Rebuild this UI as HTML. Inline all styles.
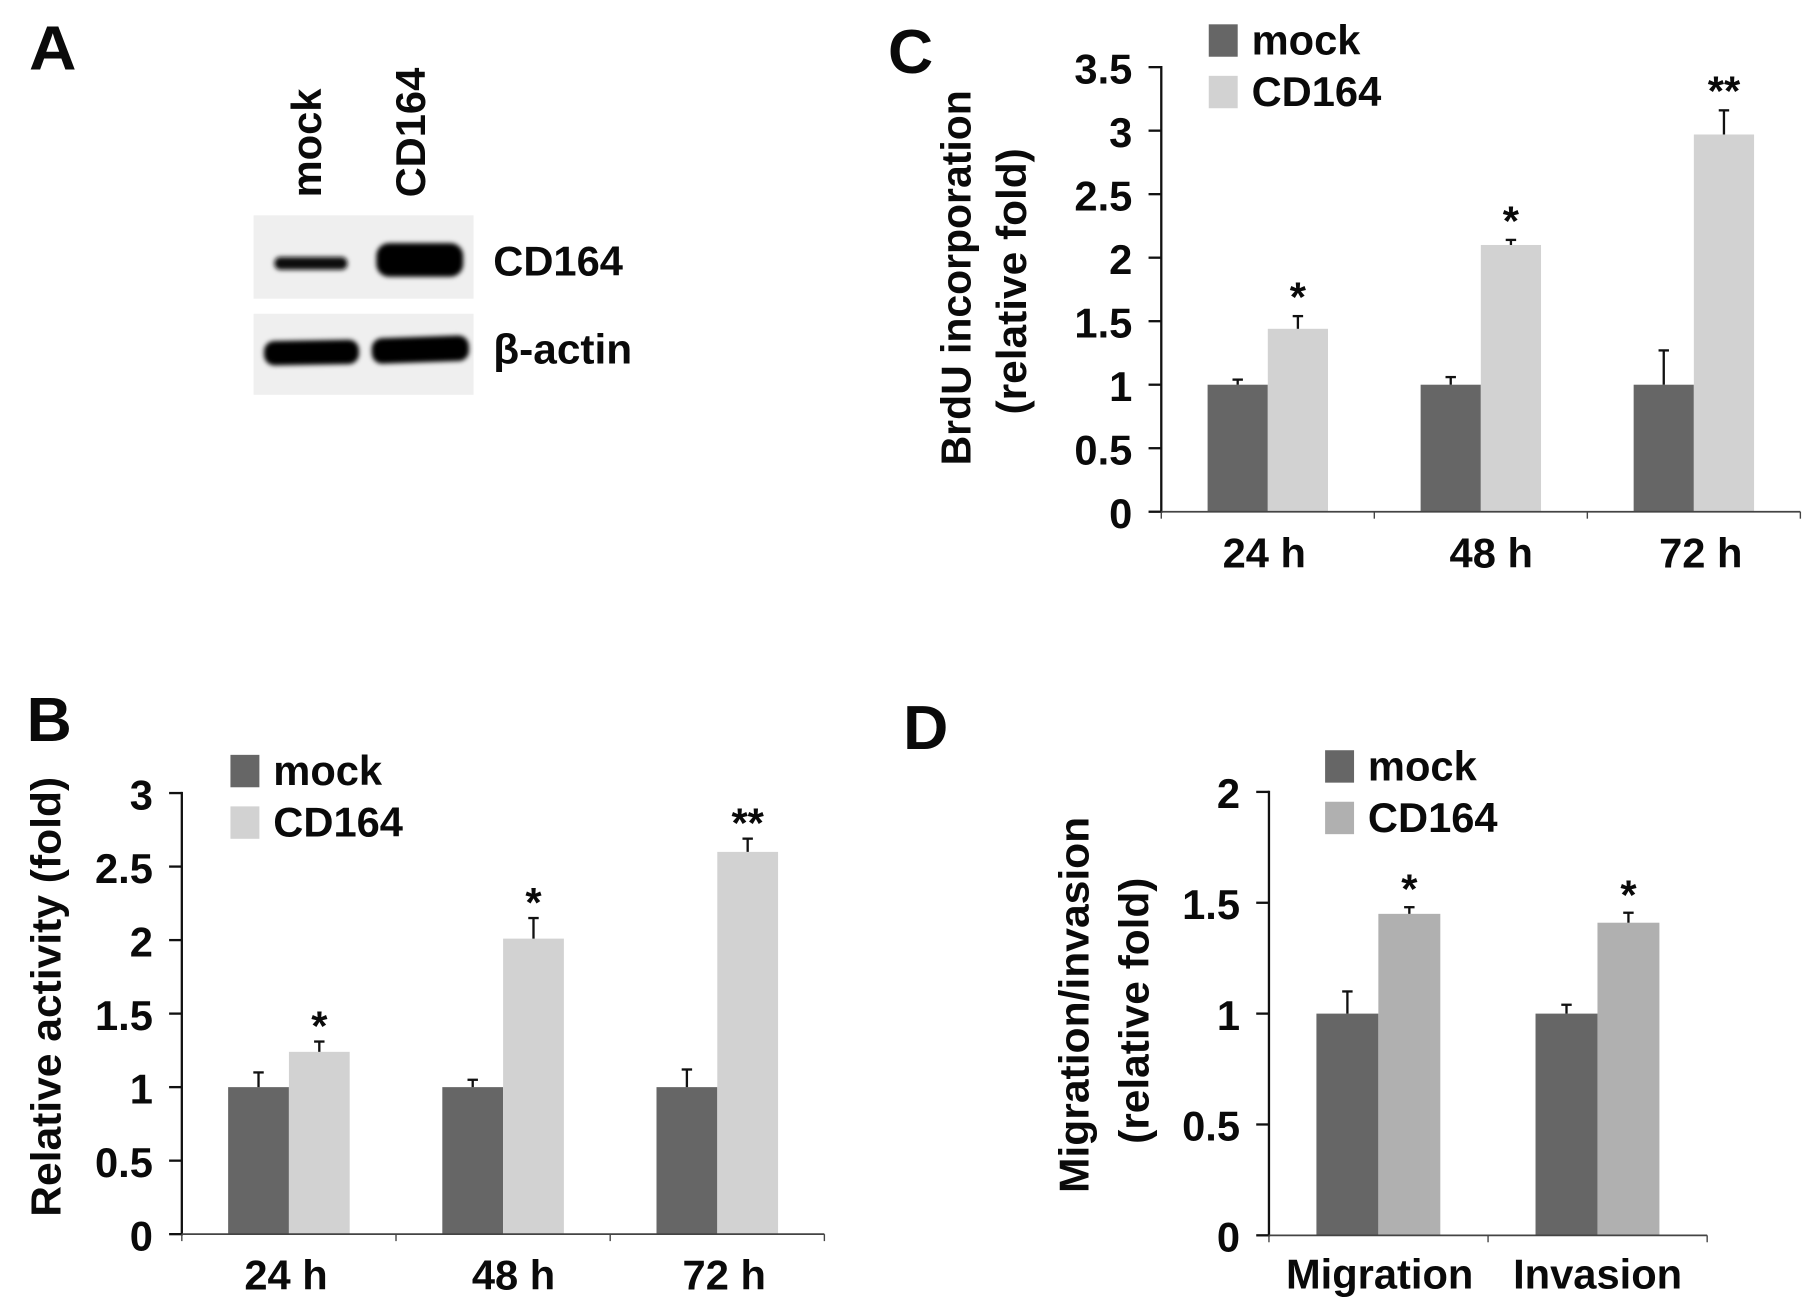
<!DOCTYPE html>
<html lang="en">
<head>
<meta charset="utf-8">
<title>CD164 figure panels</title>
<style>
html,body{margin:0;padding:0;background:#fff;width:1812px;height:1310px;overflow:hidden}
svg{display:block}
text{font-family:"Liberation Sans",Arial,sans-serif;font-weight:700;fill:#0a0a0a}
</style>
</head>
<body>
<svg id="figure" xmlns="http://www.w3.org/2000/svg" width="1812" height="1310" viewBox="0 0 1565 1131.5">
  <defs>
    <filter id="soft" x="-20%" y="-60%" width="140%" height="220%"><feGaussianBlur stdDeviation="2"/></filter>
  </defs>
  <rect width="1565" height="1132" fill="#fff"/>

  <text x="25" y="60" font-size="54" textLength="41" lengthAdjust="spacingAndGlyphs">A</text>
  <g transform="translate(-1,0)">
    <text transform="translate(278,170.5) rotate(-90)" font-size="36">mock</text>
    <text transform="translate(368,170.5) rotate(-90)" font-size="36">CD164</text>
    <rect x="220" y="186" width="190" height="72" fill="#efefef"/>
    <rect x="220" y="271" width="190" height="70" fill="#efefef"/>
    <rect x="238" y="222" width="63" height="11" rx="5" fill="#111" filter="url(#soft)"/>
    <rect x="326" y="210" width="75" height="29" rx="11" fill="#050505" filter="url(#soft)"/>
    <rect x="229" y="294" width="82" height="21" rx="9" fill="#050505" filter="url(#soft)" transform="rotate(-1 270 304)"/>
    <rect x="322" y="291" width="84" height="22" rx="9" fill="#050505" filter="url(#soft)" transform="rotate(-2 363 301)"/>
    <text x="427" y="238" font-size="36">CD164</text>
    <text x="427" y="314" font-size="36" textLength="120" lengthAdjust="spacingAndGlyphs">β-actin</text>
  </g>

  <text x="23" y="640" font-size="54">B</text>
  <text x="767" y="63" font-size="54">C</text>
  <text x="780" y="647" font-size="54">D</text>

  <text transform="translate(52,861) rotate(-90)" text-anchor="middle" font-size="36" textLength="380" lengthAdjust="spacingAndGlyphs">Relative activity (fold)</text>
  <text transform="translate(838,240) rotate(-90)" text-anchor="middle" font-size="36" textLength="324" lengthAdjust="spacingAndGlyphs">BrdU incorporation</text>
  <text transform="translate(886,243) rotate(-90)" text-anchor="middle" font-size="36" textLength="230" lengthAdjust="spacingAndGlyphs">(relative fold)</text>
  <text transform="translate(940,868) rotate(-90)" text-anchor="middle" font-size="36" textLength="325" lengthAdjust="spacingAndGlyphs">Migration/invasion</text>
  <text transform="translate(992,873) rotate(-90)" text-anchor="middle" font-size="36" textLength="230" lengthAdjust="spacingAndGlyphs">(relative fold)</text>

  <g id="chart-b"></g>
  <g id="chart-c"></g>
  <g id="chart-d"></g>
</svg>

<script>
// Panel B: relative activity
const bCategories = ['24 h', '48 h', '72 h'];
const bTickLabels = ['0', '0.5', '1', '1.5', '2', '2.5', '3'];
const bTickValues = [0, 0.5, 1, 1.5, 2, 2.5, 3];
const bMock = [1, 1, 1];
const bCd164 = [1.24, 2.01, 2.6];
const bMockErr = [0.1, 0.05, 0.12];
const bCd164Err = [0.07, 0.14, 0.09];
const bStars = ['*', '*', '**'];

// Panel C: BrdU incorporation
const cCategories = ['24 h', '48 h', '72 h'];
const cTickLabels = ['0', '0.5', '1', '1.5', '2', '2.5', '3', '3.5'];
const cTickValues = [0, 0.5, 1, 1.5, 2, 2.5, 3, 3.5];
const cMock = [1, 1, 1];
const cCd164 = [1.44, 2.1, 2.97];
const cMockErr = [0.04, 0.06, 0.27];
const cCd164Err = [0.1, 0.04, 0.19];
const cStars = ['*', '*', '**'];

// Panel D: migration / invasion
const dCategories = ['Migration', 'Invasion'];
const dTickLabels = ['0', '0.5', '1', '1.5', '2'];
const dTickValues = [0, 0.5, 1, 1.5, 2];
const dMock = [1, 1];
const dCd164 = [1.45, 1.41];
const dMockErr = [0.1, 0.04];
const dCd164Err = [0.03, 0.045];
const dStars = ['*', '*'];

const seriesNames = ['mock', 'CD164'];
const NS = 'http://www.w3.org/2000/svg';

function make(parent, tag, attrs) {
  const el = document.createElementNS(NS, tag);
  for (const k in attrs) el.setAttribute(k, attrs[k]);
  parent.appendChild(el);
  return el;
}

function drawChart(cfg) {
  const root = document.getElementById(cfg.id);
  const maxV = cfg.tickValues[cfg.tickValues.length - 1];
  const yScale = v => cfg.y0 - (v / maxV) * (cfg.y0 - cfg.yTop);
  const groupW = (cfg.xEnd - cfg.x0) / cfg.categories.length;
  const groupX = i => cfg.x0 + i * groupW;
  const barX = (i, s) => groupX(i) + cfg.gap + s * cfg.barW;

  cfg.categories.forEach((cat, i) => {
    [[cfg.mock, cfg.mockErr, cfg.darkFill], [cfg.cd164, cfg.cd164Err, cfg.lightFill]].forEach((ser, s) => {
      const v = ser[0][i];
      const top = yScale(v);
      const bar = make(root, 'rect', {x: barX(i, s), y: top, width: cfg.barW, height: cfg.y0 - top, fill: ser[2]});
      
      

      const cx = barX(i, s) + cfg.barW / 2;
      const errTop = yScale(v + ser[1][i]);
      const stem = make(root, 'line', {x1: cx, x2: cx, y1: top, y2: errTop, stroke: '#111', 'stroke-width': 2});
      
      
      const cap = make(root, 'line', {x1: cx - 4.5, x2: cx + 4.5, y1: errTop, y2: errTop, stroke: '#111', 'stroke-width': 2});
      
      

      if (s === 1) {
        const star = make(root, 'text', {x: cx, y: errTop + cfg.starDy, 'font-size': 36, 'text-anchor': 'middle'});
        star.textContent = cfg.stars[i];
        
        
      }
    });

    const label = make(root, 'text', {x: groupX(i) + groupW / 2 + cfg.labelNudge[i], y: cfg.labelY, 'font-size': 36, 'text-anchor': 'middle'});
    label.textContent = cat;
    
    
  });

  const yAxis = make(root, 'line', {x1: cfg.x0, x2: cfg.x0, y1: cfg.yTop - 1, y2: cfg.y0 + 1, stroke: '#111', 'stroke-width': 2});
  
  
  const xAxis = make(root, 'line', {x1: cfg.x0, x2: cfg.xEnd, y1: cfg.y0, y2: cfg.y0, stroke: '#444', 'stroke-width': 1.5});
  
  

  cfg.tickValues.forEach((v, i) => {
    const y = yScale(v);
    const tick = make(root, 'line', {x1: cfg.x0 - 11, x2: cfg.x0, y1: y, y2: y, stroke: '#111', 'stroke-width': 2});
    
    
    const t = make(root, 'text', {x: cfg.x0 - 25, y: y + 14, 'font-size': 36, 'text-anchor': 'end'});
    t.textContent = cfg.tickLabels[i];
    
    
  });

  for (let i = 0; i <= cfg.categories.length; i++) {
    const tick = make(root, 'line', {x1: groupX(i), x2: groupX(i), y1: cfg.y0, y2: cfg.y0 + 6, stroke: '#444', 'stroke-width': 1.2});
    
    
  }

  seriesNames.forEach((name, s) => {
    const sy = cfg.legendY + s * 44.5;
    const swatch = make(root, 'rect', {x: cfg.legendX, y: sy, width: 25, height: 28, fill: s ? cfg.lightFill : cfg.darkFill});
    
    
    const t = make(root, 'text', {x: cfg.legendX + 37, y: sy + 26, 'font-size': 36});
    t.textContent = name;
    
    
  });
}

drawChart({id: 'chart-b', categories: bCategories, tickLabels: bTickLabels, tickValues: bTickValues,
  mock: bMock, cd164: bCd164, mockErr: bMockErr, cd164Err: bCd164Err, stars: bStars,
  x0: 157, xEnd: 712, y0: 1066, yTop: 685, gap: 40, barW: 52.5, labelY: 1114, labelNudge: [-2.5, 9, 6],
  darkFill: '#666666', lightFill: '#d2d2d2', legendX: 199, legendY: 652, starDy: -1});

drawChart({id: 'chart-c', categories: cCategories, tickLabels: cTickLabels, tickValues: cTickValues,
  mock: cMock, cd164: cCd164, mockErr: cMockErr, cd164Err: cCd164Err, stars: cStars,
  x0: 1003, xEnd: 1555, y0: 442, yTop: 58, gap: 40, barW: 52, labelY: 490, labelNudge: [-3, 9, 6],
  darkFill: '#666666', lightFill: '#d2d2d2', legendX: 1044, legendY: 21, starDy: -4});

drawChart({id: 'chart-d', categories: dCategories, tickLabels: dTickLabels, tickValues: dTickValues,
  mock: dMock, cd164: dCd164, mockErr: dMockErr, cd164Err: dCd164Err, stars: dStars,
  x0: 1096, xEnd: 1474.5, y0: 1067, yTop: 684, gap: 41, barW: 53.5, labelY: 1113, labelNudge: [1, 0],
  darkFill: '#666666', lightFill: '#b0b0b0', legendX: 1144.5, legendY: 648, starDy: -3});
</script>
</body>
</html>
